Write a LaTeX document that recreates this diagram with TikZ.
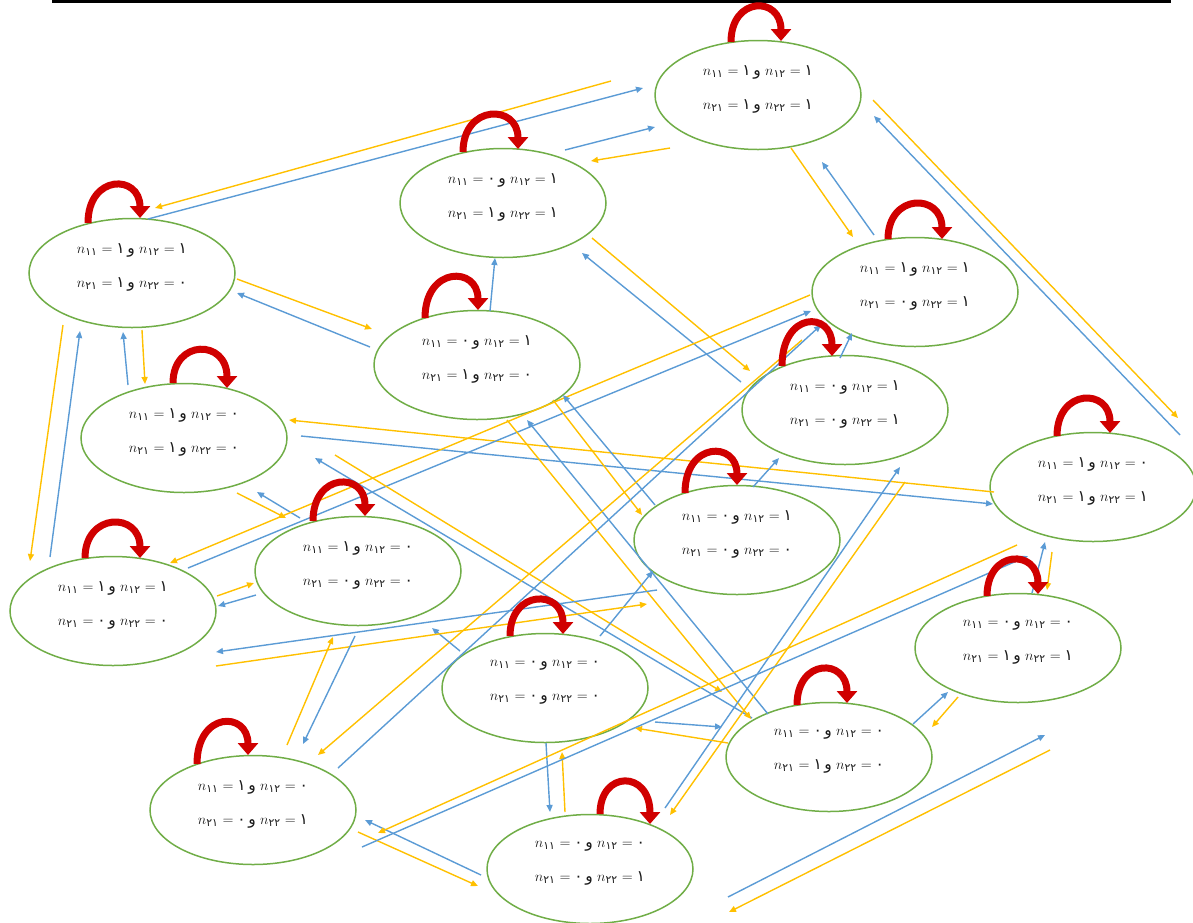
\documentclass[tikz,border=0pt]{standalone}
\usepackage{fontspec}
\usepackage{amsmath}
\usetikzlibrary{arrows.meta,calc,shapes.geometric}
\newfontfamily\arf[Script=Arabic]{DejaVu Sans}
\definecolor{yel}{HTML}{FFC000}
\definecolor{blu}{HTML}{5B9BD5}
\definecolor{grn}{HTML}{70AD47}
\definecolor{lred}{HTML}{D00000}
\newcommand\dg[1]{\text{\arf #1}}
\newcommand\stline[4]{$n_{\dg{#1}} = \dg{#2}$\,{\arf و}\;$n_{\dg{#3}} = \dg{#4}$}
\newcommand\stnode[6]{%
  \node[st] (#1) at (#2) {};
  \node[lbl] (#1-t) at ($(#1)+(0,-6)$) {\stline{١١}{#3}{١٢}{#4}\\\stline{٢١}{#5}{٢٢}{#6}};}
\newcommand\sloop[5]{\draw[lp] ($(#1)+(#2,-#4)$) .. controls ($(#1)+(#2,-99)$) and ($(#1)+(#3,-99)$) .. ($(#1)+(#3,-#5)$);}
\newcommand\cn[5]{\draw[#1] ($(#2)+(#3)$) -- ($(#4)+(#5)$);}
\tikzset{
  st/.style={draw=grn, line width=1.5pt, ellipse, minimum width=206pt, minimum height=109pt, inner sep=0pt},
  lbl/.style={align=center, font=\fontsize{15.5}{34}\selectfont, text=black!90, inner sep=0pt},
  ya/.style={draw=yel, line width=1.4pt, -{Triangle[length=7pt,width=6pt]}},
  ba/.style={draw=blu, line width=1.4pt, -{Triangle[length=7pt,width=6pt]}},
  lp/.style={draw=lred, line width=7pt, -{Triangle[length=12pt,width=20pt]}},
}
\begin{document}
\begin{tikzpicture}[x=1pt,y=-1pt]
\useasboundingbox (0,0) rectangle (1193,922);
\fill[black] (52,0) rectangle (1171,3);
% states
\stnode{A}{758,95}{١}{١}{١}{١}
\stnode{B}{503,203}{٠}{١}{١}{١}
\stnode{C}{132,273}{١}{١}{١}{٠}
\stnode{D}{915,292}{١}{١}{٠}{١}
\stnode{E}{477,365}{٠}{١}{١}{٠}
\stnode{F}{845,410}{٠}{١}{٠}{١}
\stnode{G}{184,438}{١}{٠}{١}{٠}
\stnode{H}{1093,487}{١}{٠}{١}{١}
\stnode{I}{737,540}{٠}{١}{٠}{٠}
\stnode{J}{358,571}{١}{٠}{٠}{٠}
\stnode{K}{113,611}{١}{١}{٠}{٠}
\stnode{L}{1018,648}{٠}{٠}{١}{١}
\stnode{M}{545,688}{٠}{٠}{٠}{٠}
\stnode{N}{829,757}{٠}{٠}{١}{٠}
\stnode{O}{253,810}{١}{٠}{٠}{١}
\stnode{P}{590,869}{٠}{٠}{٠}{١}
% connectors
\cn{ya}{A}{-147,-14}{C}{23,-65}
\cn{ba}{C}{16,-54}{A}{-115,-7}
\cn{ba}{B}{62,-53}{A}{-103,32}
\cn{ya}{A}{-88,53}{B}{88,-42}
\cn{ya}{A}{115,5}{H}{85,-69}
\cn{ba}{H}{87,-52}{A}{116,21}
\cn{ya}{A}{33,53}{D}{-62,-55}
\cn{ba}{D}{-41,-57}{A}{64,67}
\cn{ya}{C}{105,6}{E}{-105,-36}
\cn{ba}{E}{-107,-18}{C}{105,20}
\cn{ba}{E}{13,-54}{B}{-8,55}
\cn{ya}{B}{89,35}{F}{-95,-39}
\cn{ba}{F}{-104,-28}{B}{79,50}
\cn{ba}{G}{-56,-53}{C}{-9,59}
\cn{ya}{C}{10,57}{G}{-39,-54}
\cn{ya}{C}{-69,52}{K}{-83,-50}
\cn{ba}{K}{-63,-54}{C}{-52,58}
\cn{ya}{H}{-99,5}{G}{105,-18}
\cn{ba}{G}{117,-2}{H}{-100,17}
\cn{ya}{G}{53,55}{J}{-72,-53}
\cn{ba}{J}{-58,-53}{G}{73,54}
\cn{ya}{D}{-105,3}{K}{57,-48}
\cn{ba}{K}{75,-43}{D}{-104,19}
\cn{ya}{K}{104,-15}{J}{-104,12}
\cn{ba}{J}{-102,24}{K}{105,-5}
\cn{ya}{G}{151,17}{N}{-107,-65}
\cn{ba}{N}{-77,-39}{G}{131,20}
\cn{ya}{E}{30,55}{N}{-78,-38}
\cn{ba}{N}{-61,-43}{E}{50,55}
\cn{ya}{E}{76,35}{I}{-95,-25}
\cn{ba}{I}{-82,-35}{E}{86,30}
\cn{ba}{I}{16,-53}{F}{-66,48}
\cn{ba}{F}{-5,-52}{D}{-63,41}
\cn{ya}{D}{-113,48}{O}{65,-55}
\cn{ba}{O}{85,-42}{D}{-94,33}
\cn{ba}{P}{75,-61}{F}{55,57}
\cn{ya}{F}{60,72}{P}{80,-54}
\cn{ba}{M}{55,-52}{I}{-84,31}
\cn{ba}{M}{-85,-37}{J}{74,57}
\cn{ya}{K}{103,55}{I}{-90,64}
\cn{ba}{I}{-80,50}{K}{103,41}
\cn{ba}{M}{1,55}{P}{-40,-57}
\cn{ya}{P}{-25,-57}{M}{17,64}
\cn{ba}{P}{-109,6}{O}{112,10}
\cn{ya}{O}{105,22}{P}{-112,17}
\cn{ba}{P}{138,28}{L}{27,87}
\cn{ya}{L}{32,102}{P}{139,43}
\cn{ya}{O}{34,-65}{J}{-25,66}
\cn{ba}{J}{-3,65}{O}{50,-66}
\cn{ba}{M}{110,34}{N}{-107,-30}
\cn{ya}{N}{-101,-14}{M}{90,40}
\cn{ba}{N}{84,-33}{L}{-70,44}
\cn{ya}{L}{-60,49}{N}{103,-30}
\cn{ba}{L}{14,-55}{H}{-48,55}
\cn{ya}{H}{-41,65}{L}{29,-58}
\cn{ba}{O}{109,37}{H}{-65,69}
\cn{ya}{H}{-76,58}{O}{125,23}
% self loops
\sloop{A}{-27}{23}{53}{54}
\sloop{B}{-40}{15}{51}{54}
\sloop{C}{-44}{8}{50}{55}
\sloop{D}{-27}{27}{53}{53}
\sloop{E}{-52}{1}{47}{55}
\sloop{F}{-63}{-13}{44}{54}
\sloop{G}{-11}{43}{55}{50}
\sloop{H}{-36}{17}{51}{54}
\sloop{I}{-52}{0}{47}{55}
\sloop{J}{-45}{7}{50}{55}
\sloop{K}{-28}{27}{53}{53}
\sloop{L}{-31}{20}{52}{54}
\sloop{M}{-35}{18}{52}{54}
\sloop{N}{-32}{18}{52}{54}
\sloop{O}{-56}{-5}{46}{55}
\sloop{P}{10}{60}{55}{45}
\end{tikzpicture}
\end{document}
